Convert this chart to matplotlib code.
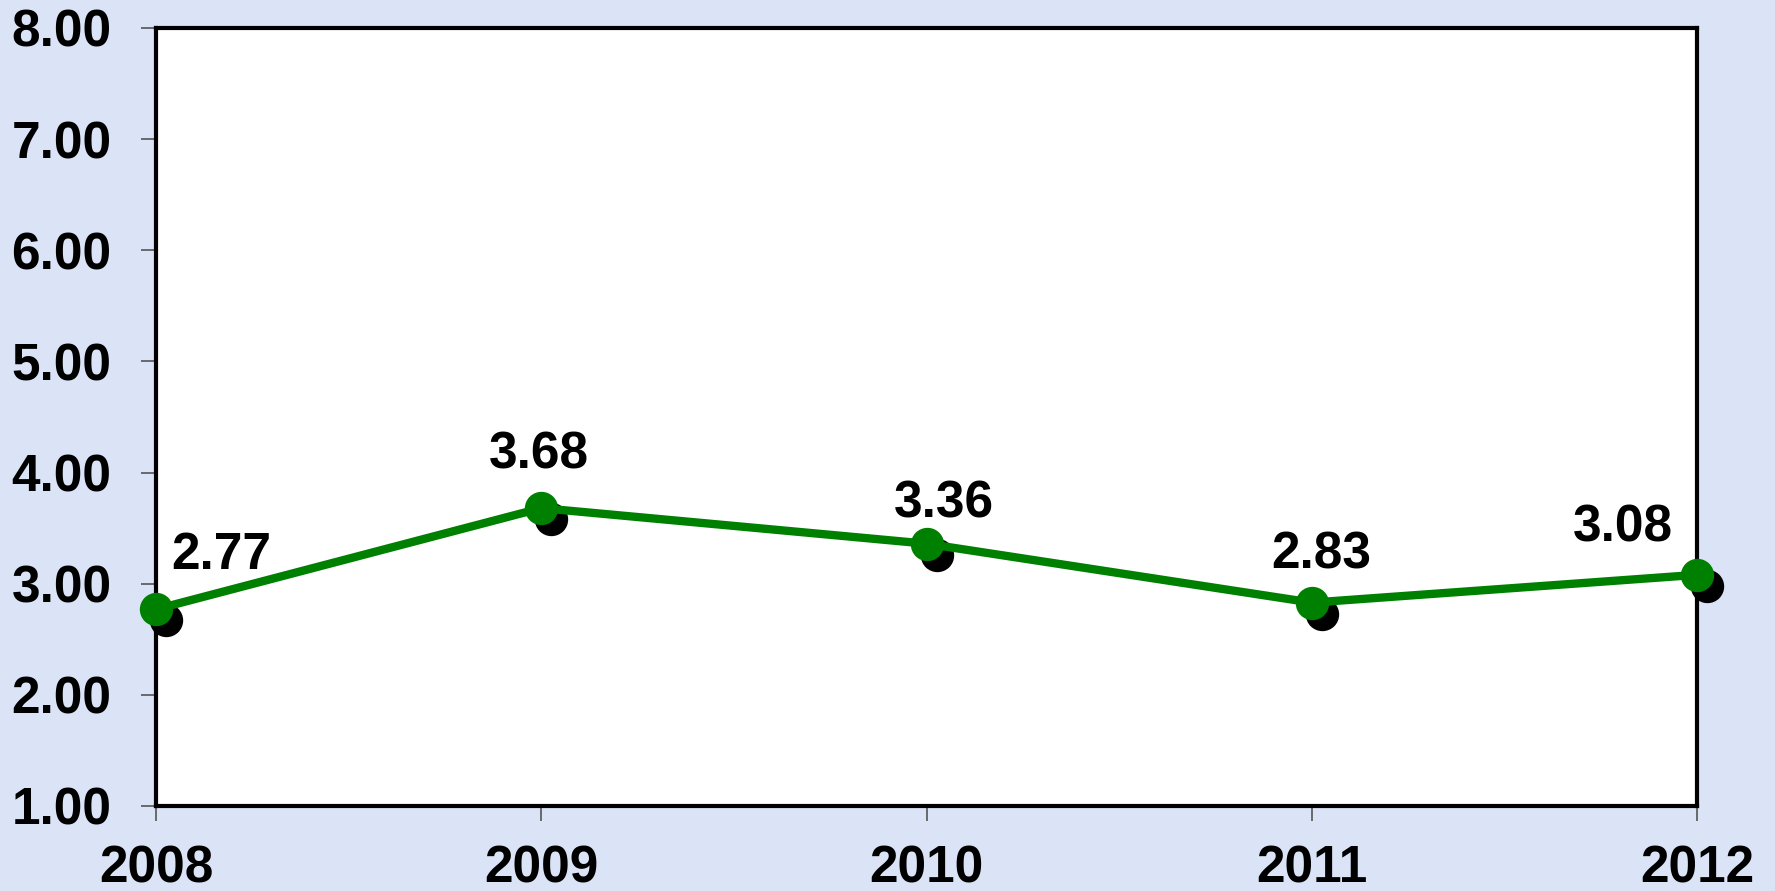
import matplotlib
matplotlib.use("Agg")
import matplotlib.pyplot as plt
import matplotlib.transforms as mtransforms

# data
years = ["2008", "2009", "2010", "2011", "2012"]
values = [2.77, 3.68, 3.36, 2.83, 3.08]
y_ticks = [1, 2, 3, 4, 5, 6, 7, 8]

plt.rcParams['font.family'] = ['Liberation Sans', 'DejaVu Sans']
plt.rcParams['font.weight'] = 'bold'

BG = '#dbe4f7'
GREEN = '#008000'

fig = plt.figure(figsize=(17.75, 8.91), dpi=100)
fig.patch.set_facecolor(BG)
ax = fig.add_axes([0.0879, 0.0954, 0.8682, 0.8732])
ax.set_facecolor('white')

x = list(range(len(years)))

# black drop shadow under each marker
shadow = mtransforms.offset_copy(ax.transData, fig=fig, x=10, y=-11, units='dots')
ax.plot(x, values, linestyle='none', marker='o', markersize=23, color='black',
        transform=shadow, clip_on=False, zorder=2)
ax.plot(x, values, color=GREEN, linewidth=6, marker='o', markersize=23,
        clip_on=False, zorder=3)

# label offsets in pixels (Excel placed them by hand-ish)
offs = [(65, 40), (-2, 40), (17, 26), (9, 34), (-74, 33)]
for xi, v, (dx, dy) in zip(x, values, offs):
    ax.annotate(f"{v:.2f}", (xi, v), xytext=(dx * 0.72, dy * 0.72),
                textcoords='offset points', ha='center', va='baseline',
                fontsize=37, fontweight='bold', zorder=4)

ax.set_xlim(0, len(years) - 1)
ax.set_ylim(1, 8)
ax.set_xticks(x)
ax.set_xticklabels(years)
ax.set_yticks(y_ticks)
ax.set_yticklabels([f"{t:.2f}" for t in y_ticks])

for s in ax.spines.values():
    s.set_linewidth(3)
    s.set_color('black')

ax.tick_params(axis='both', direction='out', length=11, width=1.2, color='#555555',
               labelsize=37)
ax.tick_params(axis='y', pad=21)
ax.tick_params(axis='x', pad=17)
for lab in ax.get_xticklabels() + ax.get_yticklabels():
    lab.set_fontweight('bold')

fig.savefig('out.png', dpi=100, facecolor=BG)
